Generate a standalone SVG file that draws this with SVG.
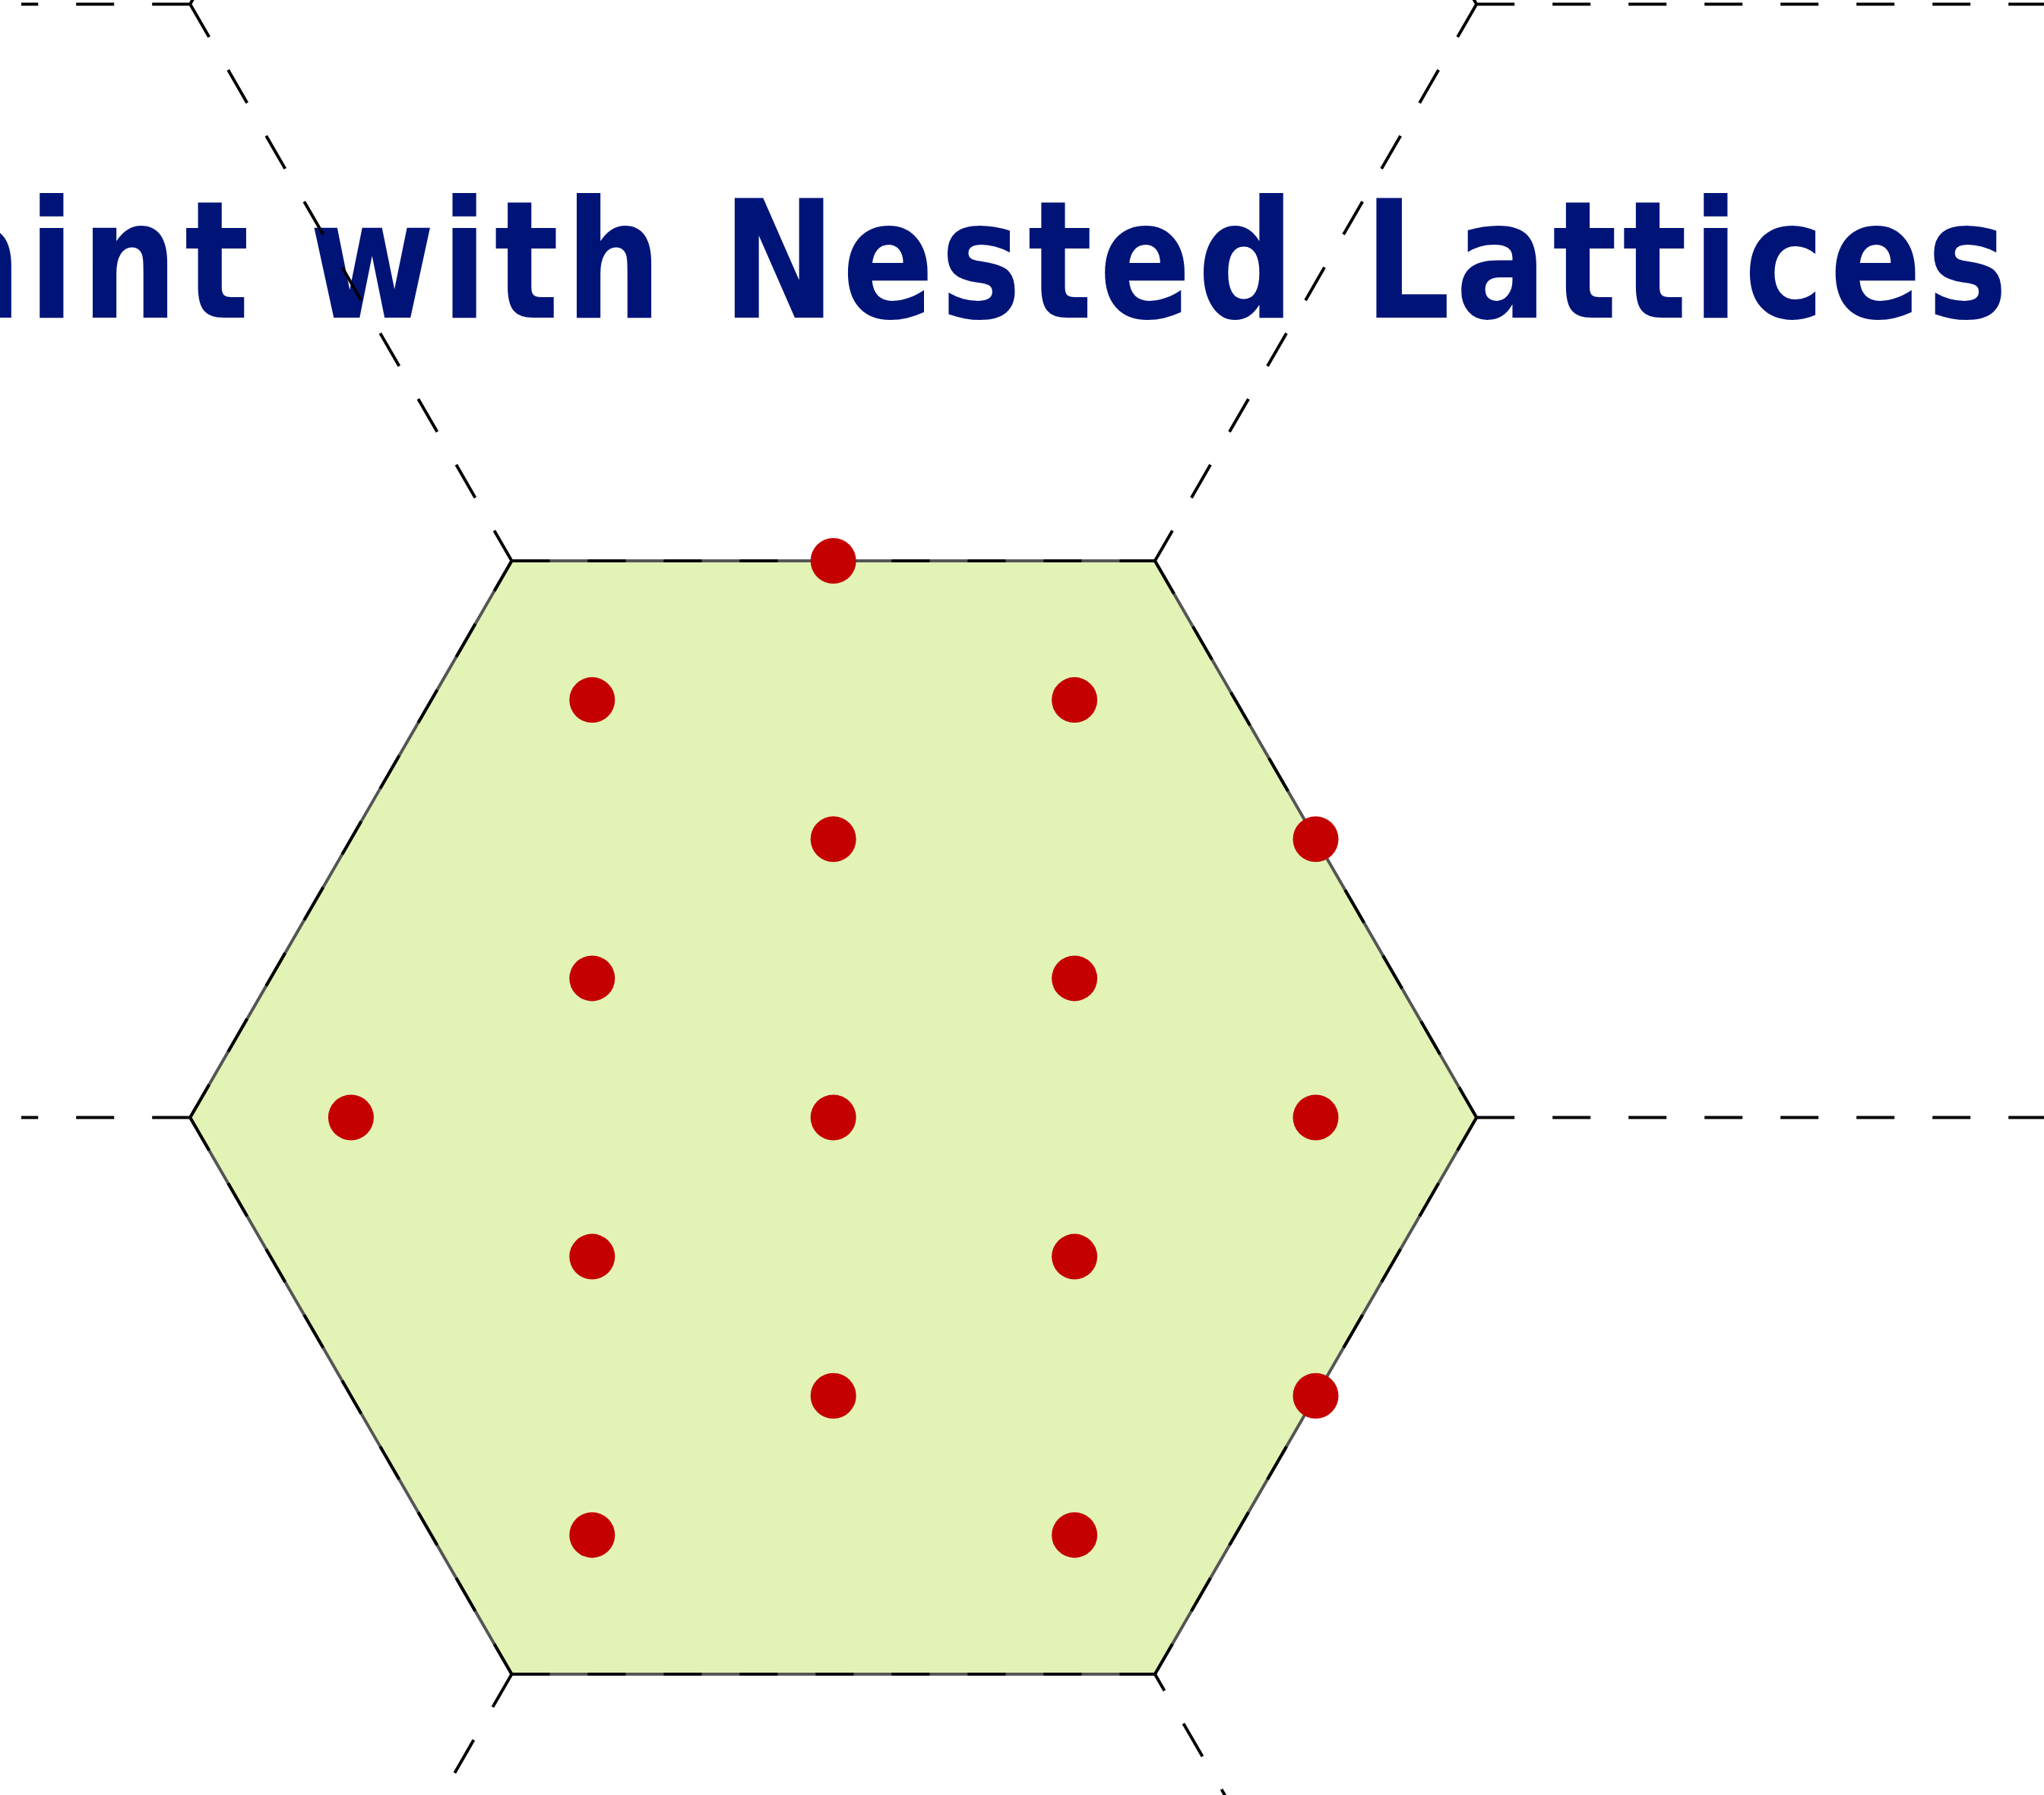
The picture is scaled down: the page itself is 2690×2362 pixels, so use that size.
<svg xmlns="http://www.w3.org/2000/svg" width="2690" height="2362" viewBox="0 0 2690 2362">
  <style>
    .title { font-family: "DejaVu Sans", "Liberation Sans", sans-serif; font-weight: bold; font-size: 215px; fill: #001478; letter-spacing: 10.3px; }
    .tight { letter-spacing: 8.3px; }
    .cell { fill: #e2f3b5; stroke: #555555; stroke-width: 4; stroke-linejoin: miter; }
    .edge { stroke: #000000; stroke-width: 4; stroke-dasharray: 50 50; fill: none; }
    .pt { fill: #c40000; }
  </style>
  <defs>
    <clipPath id="plotclip">
      <rect x="28" y="0" width="2662" height="2362"/>
    </clipPath>
  </defs>
  <rect x="0" y="0" width="2690" height="2362" fill="#ffffff"/>

  <g id="voronoi-cell">
    <polygon class="cell" points="673.45,738 1519.95,738 1943.2,1470.5 1519.95,2203 673.45,2203 250.2,1470.5"/>
  </g>

  <g id="title">
    <text class="title" transform="translate(2649,418) scale(0.83,1)" x="0" y="0" text-anchor="end">aint with Nested <tspan class="tight" dx="14.5">Lattices</tspan></text>
  </g>

  <g id="lattice-edges" clip-path="url(#plotclip)">
    <!-- central cell edges -->
    <line class="edge" x1="673.45" y1="738" x2="1519.95" y2="738"/>
    <line class="edge" x1="1519.95" y1="738" x2="1943.2" y2="1470.5"/>
    <line class="edge" x1="1943.2" y1="1470.5" x2="1519.95" y2="2203"/>
    <line class="edge" x1="673.45" y1="2203" x2="1519.95" y2="2203"/>
    <line class="edge" x1="250.2" y1="1470.5" x2="673.45" y2="2203"/>
    <line class="edge" x1="250.2" y1="1470.5" x2="673.45" y2="738"/>
    <!-- outer edges -->
    <line class="edge" x1="250.2" y1="5.5" x2="673.45" y2="738"/>
    <line class="edge" x1="1943.2" y1="5.5" x2="1519.95" y2="738"/>
    <line class="edge" x1="250.2" y1="5.5" x2="-596.3" y2="5.5"/>
    <line class="edge" x1="1943.2" y1="5.5" x2="2789.7" y2="5.5"/>
    <line class="edge" x1="250.2" y1="5.5" x2="673.45" y2="-727"/>
    <line class="edge" x1="1943.2" y1="5.5" x2="1519.95" y2="-727"/>
    <line class="edge" x1="1943.2" y1="1470.5" x2="2789.7" y2="1470.5"/>
    <line class="edge" x1="250.2" y1="1470.5" x2="-596.3" y2="1470.5"/>
    <line class="edge" x1="673.45" y1="2203" x2="250.2" y2="2935.5"/>
    <line class="edge" x1="1519.95" y1="2203" x2="1943.2" y2="2935.5" stroke-dashoffset="25"/>
  </g>

  <g id="lattice-points">
    <circle class="pt" cx="1096.7" cy="738" r="30"/>
    <circle class="pt" cx="779.3" cy="921.1" r="30"/>
    <circle class="pt" cx="1414.1" cy="921.1" r="30"/>
    <circle class="pt" cx="1096.7" cy="1104.3" r="30"/>
    <circle class="pt" cx="1731.5" cy="1104.3" r="30"/>
    <circle class="pt" cx="779.3" cy="1287.4" r="30"/>
    <circle class="pt" cx="1414.1" cy="1287.4" r="30"/>
    <circle class="pt" cx="461.9" cy="1470.5" r="30"/>
    <circle class="pt" cx="1096.7" cy="1470.5" r="30"/>
    <circle class="pt" cx="1731.5" cy="1470.5" r="30"/>
    <circle class="pt" cx="779.3" cy="1653.6" r="30"/>
    <circle class="pt" cx="1414.1" cy="1653.6" r="30"/>
    <circle class="pt" cx="1096.7" cy="1836.8" r="30"/>
    <circle class="pt" cx="1731.5" cy="1836.8" r="30"/>
    <circle class="pt" cx="779.3" cy="2019.9" r="30"/>
    <circle class="pt" cx="1414.1" cy="2019.9" r="30"/>
  </g>
</svg>
